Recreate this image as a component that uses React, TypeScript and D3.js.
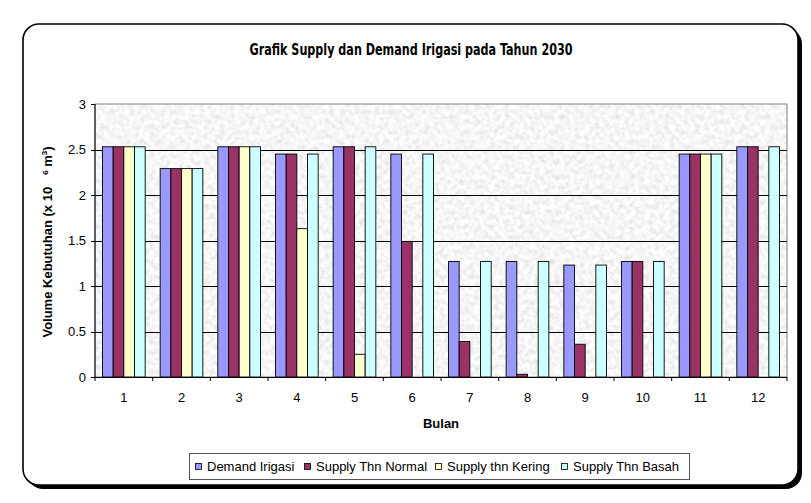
import * as d3 from "d3";

// months on the x axis
const months = ["1", "2", "3", "4", "5", "6", "7", "8", "9", "10", "11", "12"];

// volumes in 10^6 m3
const demandIrigasi = [2.53, 2.29, 2.53, 2.45, 2.53, 2.45, 1.27, 1.27, 1.23, 1.27, 2.45, 2.53];
const supplyNormal = [2.53, 2.29, 2.53, 2.45, 2.53, 1.49, 0.39, 0.03, 0.36, 1.27, 2.45, 2.53];
const supplyKering = [2.53, 2.29, 2.53, 1.63, 0.25, 0, 0, 0, 0, 0, 2.45, 0];
const supplyBasah = [2.53, 2.29, 2.53, 2.45, 2.53, 2.45, 1.27, 1.27, 1.23, 1.27, 2.45, 2.53];

const seriesNames = ["Demand Irigasi", "Supply Thn Normal", "Supply thn Kering", "Supply Thn Basah"];
const seriesColors = ["#9999FF", "#993366", "#FFFFCC", "#CCFFFF"];
const yTicks = [0, 0.5, 1, 1.5, 2, 2.5, 3];

const W = 811;
const H = 503;
const plot = { left: 95, right: 787, top: 104, bottom: 377 };
const font = "'Liberation Sans', Arial, sans-serif";

export default function App() {
    const allSeries = [demandIrigasi, supplyNormal, supplyKering, supplyBasah];

    const x = d3.scaleBand<string>().domain(months).range([plot.left, plot.right]).paddingInner(0);
    const groupW = x.bandwidth() * 0.74;
    const xs = d3.scaleBand<number>()
        .domain(d3.range(allSeries.length))
        .range([(x.bandwidth() - groupW) / 2, (x.bandwidth() + groupW) / 2]);
    const y = d3.scaleLinear().domain([0, 3]).range([plot.bottom, plot.top]);

    // legend item positions (square left edge)
    const legendX = [195, 304, 435, 561];

    return (
        <svg width={W} height={H} style={{ position: "absolute", left: 0, top: 0 }}>
            <defs>
                <filter id="grain" x="0" y="0" width="100%" height="100%">
                    <feTurbulence type="fractalNoise" baseFrequency="0.2" numOctaves="4" seed="7" />
                    <feColorMatrix
                        type="matrix"
                        values="0.4 0 0 0 0.72  0.4 0 0 0 0.72  0.4 0 0 0 0.72  0 0 0 0 1"
                    />
                </filter>
            </defs>
            <rect width={W} height={H} fill="#fff" />

            {/* outer rounded frame with shadow */}
            <rect x={27} y={28} width={775} height={461} rx={16} fill="#000" />
            <rect x={23} y={24} width={775} height={461} rx={16} fill="#fff" stroke="#000" strokeWidth={1.6} />

            <text
                x={411}
                y={55}
                textAnchor="middle"
                fontFamily="'Liberation Sans Narrow', 'DejaVu Sans Condensed', sans-serif"
                fontWeight="bold"
                fontSize={16}
                textLength={323}
                lengthAdjust="spacingAndGlyphs"
            >
                Grafik Supply dan Demand Irigasi pada Tahun 2030
            </text>

            {/* plot area */}
            <rect
                x={plot.left}
                y={plot.top}
                width={plot.right - plot.left}
                height={plot.bottom - plot.top}
                filter="url(#grain)"
                fill="#eee"
            />
            <rect
                x={plot.left}
                y={plot.top}
                width={plot.right - plot.left}
                height={plot.bottom - plot.top}
                fill="none"
                stroke="#808080"
                strokeWidth={1}
            />

            {/* gridlines */}
            {yTicks.filter(t => t > 0 && t < 3).map(t => (
                <line key={t} x1={plot.left} x2={plot.right} y1={Math.round(y(t)) + 0.5} y2={Math.round(y(t)) + 0.5} stroke="#000" strokeWidth={1} />
            ))}

            {/* bars */}
            {months.map((m, i) => (
                <g key={m} transform={`translate(${x(m)},0)`}>
                    {allSeries.map((s, j) => s[i] > 0 && (
                        <rect
                            key={j}
                            x={xs(j)}
                            y={y(s[i])}
                            width={xs.bandwidth()}
                            height={y(0) - y(s[i])}
                            fill={seriesColors[j]}
                            stroke="#000"
                            strokeWidth={0.9}
                        />
                    ))}
                </g>
            ))}

            {/* y axis */}
            <line x1={plot.left} x2={plot.left} y1={plot.top} y2={plot.bottom} stroke="#000" />
            {yTicks.map(t => (
                <g key={t}>
                    <line x1={plot.left - 4} x2={plot.left} y1={Math.round(y(t)) + 0.5} y2={Math.round(y(t)) + 0.5} stroke="#000" />
                    <text x={86} y={y(t) + 4.5} textAnchor="end" fontFamily={font} fontSize={13}>
                        {t}
                    </text>
                </g>
            ))}

            {/* x axis */}
            <line x1={plot.left} x2={plot.right} y1={plot.bottom + 0.5} y2={plot.bottom + 0.5} stroke="#000" />
            {months.concat(["end"]).map((m, i) => {
                const px = plot.left + i * x.step();
                return <line key={"t" + i} x1={px} x2={px} y1={plot.bottom} y2={plot.bottom + 4} stroke="#000" />;
            })}
            {months.map(m => (
                <text key={m} x={(x(m) as number) + x.bandwidth() / 2} y={402} textAnchor="middle" fontFamily={font} fontSize={13}>
                    {m}
                </text>
            ))}

            <text x={441} y={428} textAnchor="middle" fontFamily={font} fontSize={13} fontWeight="bold">
                Bulan
            </text>

            <text
                transform="translate(52,242) rotate(-90)"
                textAnchor="middle"
                fontFamily={font}
                fontSize={13}
                fontWeight="bold"
            >
                Volume Kebutuhan (x 10
                <tspan dx={12} dy={-4} fontSize={8}>6</tspan>
                <tspan dy={4}> m</tspan>
                <tspan dy={-5} fontSize={8}>3</tspan>
                <tspan dy={5}>)</tspan>
            </text>

            {/* legend */}
            <rect x={189.5} y={453.5} width={500} height={26} fill="#fff" stroke="#555" />
            {seriesNames.map((n, j) => (
                <g key={n}>
                    <rect x={legendX[j] + 0.5} y={463.5} width={6} height={6} fill={seriesColors[j]} stroke="#000" strokeWidth={0.8} />
                    <text x={legendX[j] + 12} y={471} fontFamily={font} fontSize={13}>
                        {n}
                    </text>
                </g>
            ))}
        </svg>
    );
}
